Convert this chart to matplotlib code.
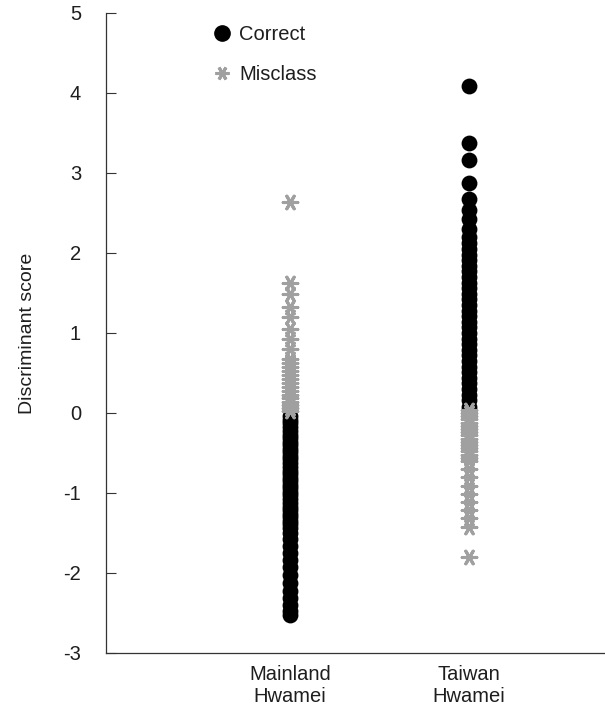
import matplotlib
matplotlib.use("Agg")
import matplotlib.pyplot as plt
from matplotlib.lines import Line2D

plt.rcParams['font.family'] = ['Liberation Sans', 'DejaVu Sans']

categories = ["Mainland\nHwamei", "Taiwan\nHwamei"]

mainland_correct = [
    -0.04, -0.09, -0.13, -0.18, -0.22, -0.27, -0.31, -0.36, -0.40, -0.45,
    -0.49, -0.54, -0.58, -0.63, -0.67, -0.72, -0.76, -0.81, -0.85, -0.90,
    -0.94, -0.99, -1.03, -1.08, -1.12, -1.17, -1.21, -1.26, -1.30, -1.35,
    -1.39, -1.44, -1.50, -1.58, -1.66, -1.75, -1.84, -1.93, -2.02, -2.12,
    -2.22, -2.31, -2.40, -2.47, -2.52]
mainland_misclass = [
    2.64, 1.63, 1.49, 1.33, 1.20, 1.05, 0.93, 0.80, 0.68, 0.62,
    0.57, 0.52, 0.47, 0.42, 0.37, 0.32, 0.28, 0.23, 0.19, 0.14,
    0.10, 0.06, 0.02]
taiwan_correct = [
    4.09, 3.37, 3.16, 2.87, 2.68, 2.54, 2.42, 2.30, 2.20, 2.12,
    2.05, 1.98, 1.91, 1.84, 1.77, 1.70, 1.63, 1.56, 1.49, 1.42,
    1.35, 1.28, 1.21, 1.14, 1.07, 1.00, 0.93, 0.86, 0.79, 0.72,
    0.65, 0.58, 0.51, 0.44, 0.37, 0.30, 0.23, 0.16, 0.08]
taiwan_misclass = [
    0.04, 0.00, -0.04, -0.08, -0.12, -0.16, -0.20, -0.24, -0.28, -0.32,
    -0.36, -0.40, -0.44, -0.48, -0.52, -0.56, -0.60, -0.70, -0.80, -0.91,
    -1.01, -1.11, -1.21, -1.31, -1.43, -1.80]

series_labels = ["Correct", "Misclass"]
yticks = [-3, -2, -1, 0, 1, 2, 3, 4, 5]

BLACK = "#000000"
GRAY = "#a0a0a0"
TEXT = "#1e1e1e"
STAR = (6, 2, 90)
FS = 14.5

fig = plt.figure(figsize=(6.05, 7.10), dpi=100)
ax = fig.add_axes([106 / 605, 1 - 653 / 710, 1 - 106 / 605, (653 - 13) / 710])

correct = [mainland_correct, taiwan_correct]
mis = [mainland_misclass, taiwan_misclass]
for i in range(2):
    pos = i + 1
    ax.scatter([pos] * len(correct[i]), correct[i], s=130, c=BLACK,
               marker='o', linewidths=0, zorder=2)
for i in range(2):
    pos = i + 1
    ax.scatter([pos] * len(mis[i]), mis[i], s=110, c=GRAY,
               marker=STAR, linewidths=2.2, zorder=3)

ax.set_ylim(-3, 5)
ax.set_xlim(1 - 184 / 179, 2 + 136 / 179)
ax.set_yticks(yticks)
ax.set_yticklabels([str(t) for t in yticks], fontsize=FS, color=TEXT)
ax.set_xticks([1, 2])
ax.set_xticklabels(categories, fontsize=FS, color=TEXT, linespacing=1.2)
ax.tick_params(axis='y', direction='in', length=7.5, width=0.8,
               color="#333333", pad=18)
ax.tick_params(axis='x', length=0, pad=9)
for s in ['top', 'right']:
    ax.spines[s].set_visible(False)
for s in ['left', 'bottom']:
    ax.spines[s].set_color("#333333")
    ax.spines[s].set_linewidth(0.9)

ax.set_ylabel("Discriminant score", fontsize=14, color=TEXT)
ax.yaxis.set_label_coords(-0.14, 0.5)

handles = [
    Line2D([], [], linestyle='none', marker='o', color=BLACK, markersize=11),
    Line2D([], [], linestyle='none', marker=STAR, color=GRAY,
           markersize=10, markeredgewidth=2.2),
]
leg = ax.legend(handles, series_labels, loc='upper left',
                bbox_to_anchor=(202 / 605, 1 - 15 / 710),
                bbox_transform=fig.transFigure, frameon=False, fontsize=FS,
                handlelength=1.0, handletextpad=0.35, labelspacing=1.05,
                borderpad=0)
for t in leg.get_texts():
    t.set_color(TEXT)

fig.savefig("out.png", dpi=100)
